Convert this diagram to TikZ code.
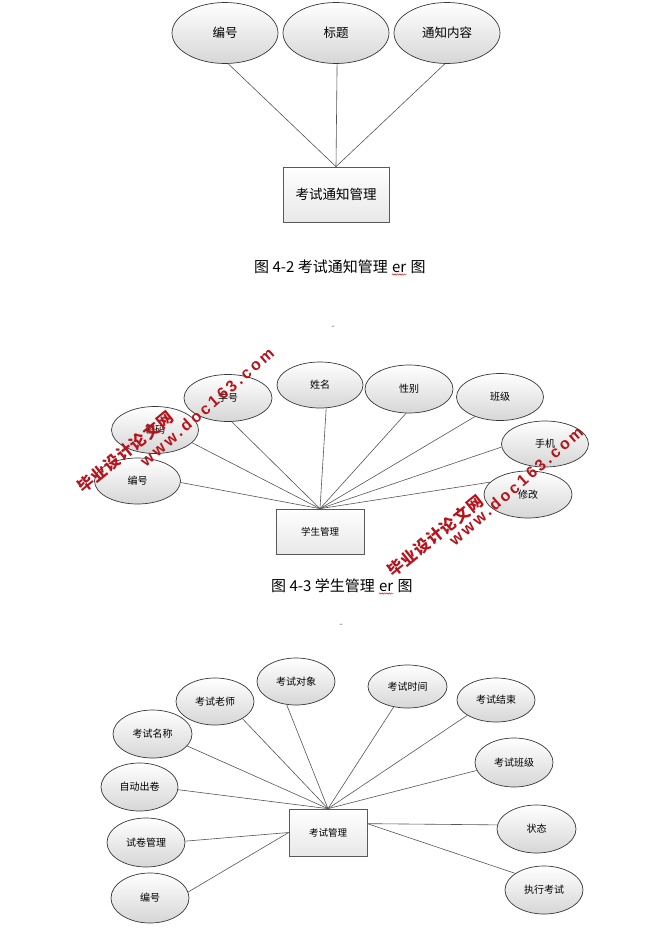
\documentclass[tikz,border=0pt]{standalone}
\usepackage{fontspec}
\setmainfont{Noto Sans CJK SC}
\newfontfamily\wmlatin[LetterSpace=18]{Liberation Sans}
\newfontfamily\wmcjk[LetterSpace=6]{Noto Sans CJK SC}
\usetikzlibrary{shapes.geometric,calc,decorations.pathmorphing}
\definecolor{wmred}{HTML}{B5141C}
\definecolor{edge}{HTML}{555555}
\tikzset{
  attr/.style={ellipse, draw=black!78, line width=0.7pt, top color=white, bottom color=black!16, inner sep=0pt},
  ent/.style={rectangle, draw=black!65, line width=0.7pt, top color=white, bottom color=black!9, inner sep=0pt},
  conn/.style={draw=edge, line width=0.6pt},
  fA/.style={font=\fontsize{12.5}{14}\selectfont},
  fB/.style={font=\fontsize{10}{12}\selectfont},
  fC/.style={font=\fontsize{9.5}{11}\selectfont},
  captext/.style={font=\fontsize{15}{16}\selectfont, inner sep=0pt, anchor=base west},
  wavy/.style={draw=red!80!black, line width=0.4pt, decorate, decoration={snake, amplitude=0.7pt, segment length=2.4pt}},
  wmtext/.style={text=wmred, font=\bfseries\fontsize{16}{16}\selectfont, inner sep=0pt},
  dashmark/.style={text=black!55, font=\fontsize{10}{10}\selectfont, inner sep=0pt}
}
\begin{document}
\begin{tikzpicture}[x=1pt, y=-1pt]
\fill[white] (0,0) rectangle (665,934);
\useasboundingbox (0,0) rectangle (665,934);

% ---------- Figure 4-2 ----------
\node[attr, fA, minimum width=106pt, minimum height=61pt] (t1) at (225,33) {编号};
\node[attr, fA, minimum width=106pt, minimum height=61pt] (t2) at (336,33) {标题};
\node[attr, fA, minimum width=106pt, minimum height=61pt] (t3) at (447,33) {通知内容};
\node[ent, font=\fontsize{13.5}{15}\selectfont, minimum width=106pt, minimum height=55pt] (T) at (336,194.5) {考试通知管理};
\draw[conn] (t1.-84) -- (T.north);
\draw[conn] (t2.-88) -- (T.north);
\draw[conn] (t3.-94) -- (T.north);

\node[captext] (c2a) at (254,272) {图 4-2 考试通知管理};
\node[captext] (c2b) at ([xshift=4pt]c2a.base east) {er};
\node[captext] (c2c) at ([xshift=4pt]c2b.base east) {图};
\draw[wavy] ([yshift=-2.5pt]c2b.base west) -- ([yshift=-2.5pt]c2b.base east);

\node[dashmark] (d1) at (333,328) {-};

% ---------- Figure 4-3 ----------
\node[attr, fB, minimum width=86pt, minimum height=46pt] (m1) at (137.5,481) {编号};
\node[attr, fB, minimum width=87pt, minimum height=47pt] (m2) at (155,430) {密码};
\node[attr, fB, minimum width=88pt, minimum height=47pt] (m3) at (228,398) {学号};
\node[attr, fB, minimum width=86pt, minimum height=46pt] (m4) at (320,385) {姓名};
\node[attr, fB, minimum width=88pt, minimum height=48pt] (m5) at (409,389) {性别};
\node[attr, fB, minimum width=87pt, minimum height=47pt] (m6) at (500,397) {班级};
\node[attr, fB, minimum width=87pt, minimum height=46pt] (m7) at (545,444) {手机};
\node[attr, fB, minimum width=88pt, minimum height=47pt] (m8) at (528,494.5) {修改};
\node[ent, fC, minimum width=88pt, minimum height=45pt] (S) at (320,531.5) {学生管理};
\draw[conn] (m1.-2) -- (S.north);
\draw[conn] (m2.-19) -- (S.north);
\draw[conn] (m3.-81) -- (S.north);
\draw[conn] (m4.-75) -- (S.north);
\draw[conn] (m5.-97) -- (S.north);
\draw[conn] (m6.-142) -- (S.north);
\draw[conn] (m7.-176) -- (S.north);
\draw[conn] (m8.162) -- (S.north);

\node[captext] (c3a) at (271,591) {图 4-3 学生管理};
\node[captext] (c3b) at ([xshift=4pt]c3a.base east) {er};
\node[captext] (c3c) at ([xshift=4pt]c3b.base east) {图};
\draw[wavy] ([yshift=-2.5pt]c3b.base west) -- ([yshift=-2.5pt]c3b.base east);

\node[dashmark] (d2) at (341,626) {-};

% ---------- Exam management ----------
\node[attr, fB, minimum width=78pt, minimum height=47pt] (b1) at (296,681.5) {考试对象};
\node[attr, fB, minimum width=78pt, minimum height=47pt] (b2) at (215,701.5) {考试老师};
\node[attr, fB, minimum width=79pt, minimum height=48pt] (b3) at (152.5,734) {考试名称};
\node[attr, fB, minimum width=77pt, minimum height=48pt] (b4) at (139.5,787) {自动出卷};
\node[attr, fB, minimum width=78pt, minimum height=49pt] (b5) at (146,842.5) {试卷管理};
\node[attr, fB, minimum width=78pt, minimum height=50pt] (b6) at (150,898) {编号};
\node[attr, fB, minimum width=79pt, minimum height=43pt] (b7) at (407.5,686.5) {考试时间};
\node[attr, fB, minimum width=78pt, minimum height=44pt] (b8) at (496,700) {考试结束};
\node[attr, fB, minimum width=78pt, minimum height=49pt] (b9) at (514,762.5) {考试班级};
\node[attr, fB, minimum width=79pt, minimum height=48pt] (b10) at (536.5,829) {状态};
\node[attr, fB, minimum width=78pt, minimum height=48pt] (b11) at (544,890) {执行考试};
\node[ent, fC, minimum width=78pt, minimum height=47pt] (K) at (328,832.5) {考试管理};
\coordinate (kr) at ($(K.north east)+(0,15)$);
\draw[conn] (b1.-112) -- (K.north);
\draw[conn] (b2.-32) -- (K.north);
\draw[conn] (b3.-19) -- (K.north);
\draw[conn] (b4.-4) -- (K.north);
\draw[conn] (b5.2) -- (K.west);
\draw[conn] (b6.9) -- (K.west);
\draw[conn] (b7.-124) -- (K.north);
\draw[conn] (b8.-152) -- (K.north);
\draw[conn] (b9.-168) -- (K.north);
\draw[conn] (b10.174) -- (kr);
\draw[conn] (b11.150) -- (kr);

% ---------- watermarks ----------
\node[wmtext, rotate=39] (w1a) at (125,452) {\wmcjk 毕业设计论文网};
\node[wmtext, rotate=41] (w1b) at (207,407) {\wmlatin www.doc163.com};
\node[wmtext, rotate=39] (w2a) at (435,536) {\wmcjk 毕业设计论文网};
\node[wmtext, rotate=41] (w2b) at (516,486) {\wmlatin www.doc163.com};
\end{tikzpicture}
\end{document}
